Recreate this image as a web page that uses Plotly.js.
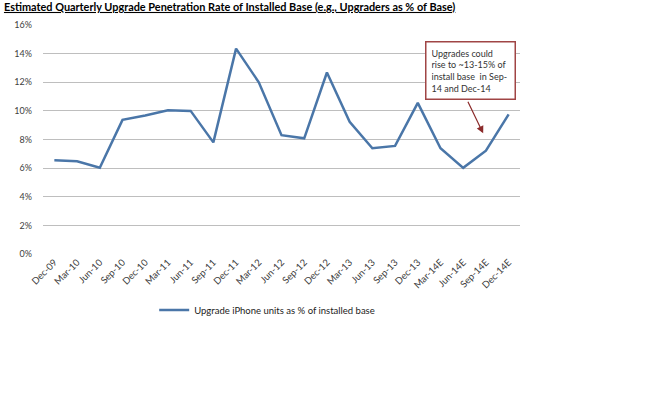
<!DOCTYPE html>
<html>
<head>
<meta charset="utf-8">
<script src="https://cdn.plot.ly/plotly-3.0.1.min.js"></script>
<style>html,body{margin:0;padding:0;background:#fff;}#chart{width:660px;height:396px;}</style>
</head>
<body>
<div id="chart"></div>
<script>
const quarters = ["Dec-09","Mar-10","Jun-10","Sep-10","Dec-10","Mar-11","Jun-11","Sep-11","Dec-11","Mar-12","Jun-12","Sep-12","Dec-12","Mar-13","Jun-13","Sep-13","Dec-13","Mar-14E","Jun-14E","Sep-14E","Dec-14E"];
const upgradePct = [6.55,6.48,6.03,9.37,9.68,10.05,10.0,7.8,14.35,12.0,8.3,8.08,12.68,9.24,7.39,7.55,10.56,7.39,6.02,7.22,9.75];
const seriesName = "Upgrade iPhone units as % of installed base";
const chartTitle = "<b><u>Estimated Quarterly Upgrade Penetration Rate of Installed Base (e.g., Upgraders as % of Base)</u></b>";
const noteText = "Upgrades could<br>rise to ~13-15% of<br>install base  in Sep-<br>14 and Dec-14";
const yTicks = [0,2,4,6,8,10,12,14,16];

const FONT = "Lato, 'Open Sans', sans-serif";

const trace = {
  x: quarters, y: upgradePct, type: "scatter", mode: "lines", name: seriesName,
  line: {color: "#4A76A8", width: 2.5}
};

const layout = {
  width: 660, height: 396,
  margin: {l: 43, r: 140, t: 25, b: 142},
  paper_bgcolor: "#fff", plot_bgcolor: "#fff",
  font: {family: FONT, color: "#404040", size: 9},
  title: {text: chartTitle, xref: "container", x: 0.006, xanchor: "left", yref: "container", y: 0.982, yanchor: "middle",
          font: {family: FONT, size: 10.9, color: "#000"}},
  showlegend: true,
  legend: {orientation: "h", x: 0.47, xanchor: "center", y: -0.245, yanchor: "middle", font: {size: 9.5, color: "#222"}},
  xaxis: {type: "category", range: [-0.5, 20.5], tickangle: -45, showgrid: false, zeroline: false,
          showline: false, ticks: "", tickfont: {size: 9.5, color: "#404040"}, fixedrange: true},
  yaxis: {range: [0, 16], tickvals: yTicks, ticktext: yTicks.map(v => v + "%"), showgrid: true, gridcolor: "#BEBEBE", gridwidth: 1.2,
          zeroline: false, showline: false, ticks: "", ticklabelstandoff: 10, tickfont: {size: 9, color: "#404040"}, fixedrange: true},
  annotations: [
    {xref: "paper", yref: "paper", x: 0.896, y: 0.80, xanchor: "center", yanchor: "middle", showarrow: false,
     text: noteText, align: "left", font: {size: 9, color: "#333"}, bgcolor: "#fff",
     bordercolor: "#A04545", borderwidth: 1.5, borderpad: 5, width: 78},
    {x: 18.88, y: 8.43, xref: "x", yref: "y", text: "", showarrow: true, arrowhead: 2, arrowsize: 1.2, arrowwidth: 1.2,
     arrowcolor: "#8B2A2A", ax: -16, ay: -33}
  ]
};

Plotly.newPlot("chart", [trace], layout, {displayModeBar: false, staticPlot: true});
</script>
</body>
</html>
